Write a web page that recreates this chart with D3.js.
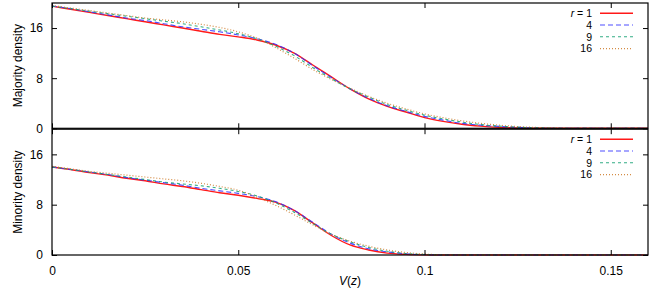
<!DOCTYPE html>
<html><head><meta charset="utf-8">
<script src="https://cdn.jsdelivr.net/npm/d3@7"></script>
<style>body{margin:0;background:#fff}svg{display:block}text{font-family:"Liberation Sans",Arial,sans-serif;font-size:12px;fill:#000}</style>
</head><body><svg id="c" width="654" height="291"></svg>
<script>
const V = [0,.005,.01,.015,.02,.025,.03,.035,.04,.045,.05,.055,.06,.065,.07,.075,.08,.085,.09,.095,.1,.105,.11,.115,.12,.125,.13,.135,.14,.145,.15,.155,.16];
const majR1  = [19.5,19.0,18.5,18.0,17.5,17.0,16.5,16.0,15.5,15.0,14.6,14.1,13.3,12.0,10.1,8.2,6.3,4.7,3.5,2.6,1.7,1.1,0.65,0.35,0.15,0.04,0,0,0,0,0,0,0];
const majR4  = [19.5,19.1,18.6,18.1,17.6,17.2,16.7,16.2,15.8,15.4,14.9,14.3,13.4,12.0,10.0,8.1,6.3,4.8,3.6,2.7,1.9,1.3,0.8,0.5,0.3,0.15,0.05,0,0,0,0,0,0];
const majR9  = [19.5,19.1,18.7,18.3,17.9,17.5,17.1,16.7,16.2,15.7,15.1,14.3,13.1,11.6,9.7,7.9,6.3,5.0,3.8,2.9,2.1,1.5,1.0,0.6,0.35,0.18,0.08,0.02,0,0,0,0,0];
const majR16 = [19.6,19.2,18.8,18.4,18.0,17.6,17.3,17.0,16.6,16.1,15.4,14.4,12.9,11.2,9.4,7.8,6.4,5.1,4.0,3.1,2.3,1.7,1.2,0.8,0.5,0.28,0.14,0.05,0,0,0,0,0];
const minR1  = [14.0,13.6,13.1,12.7,12.2,11.8,11.3,10.9,10.4,9.9,9.5,9.0,8.4,7.1,5.1,3.1,1.6,0.8,0.3,0.1,0.02,0,0,0,0,0,0,0,0,0,0,0,0];
const minR4  = [14.0,13.6,13.2,12.8,12.3,11.9,11.5,11.1,10.6,10.2,9.8,9.3,8.5,7.1,5.2,3.3,1.9,1.0,0.5,0.2,0.05,0,0,0,0,0,0,0,0,0,0,0,0];
const minR9  = [14.0,13.6,13.2,12.8,12.4,12.0,11.6,11.3,11.0,10.6,10.1,9.4,8.3,6.8,5.0,3.3,2.1,1.2,0.6,0.25,0.08,0,0,0,0,0,0,0,0,0,0,0,0];
const minR16 = [14.1,13.7,13.3,13.0,12.7,12.4,12.1,11.8,11.4,10.9,10.3,9.2,7.9,6.4,4.8,3.3,2.2,1.4,0.8,0.4,0.15,0.03,0,0,0,0,0,0,0,0,0,0,0];
const legendLabels = ["1","4","9","16"];
const xTicks = [0,0.05,0.1,0.15];
const yTicks = [0,8,16];

const colors = ["#ff0000","#3030ff","#10a070","#d08030"];
const dashes = [null,"5,3","3,3","1,2"];
const widths = [1.4,1.1,1.1,1.2];
const opac = [0.9,0.85,0.85,0.9];

const svg = d3.select("#c");
const L = 52, R = 648;
const x = d3.scaleLinear().domain([0,0.16]).range([L,R]);
const panels = [
  {top:3, bot:128.3, series:[majR1,majR4,majR9,majR16], label:"Majority density", legY:13.2, xlab:false},
  {top:129.2, bot:255, series:[minR1,minR4,minR9,minR16], label:"Minority density", legY:139.2, xlab:true}
];
panels.forEach(p=>{
  const y = d3.scaleLinear().domain([0,20]).range([p.bot,p.top]);
  const g = svg.append("g");
  const line = d3.line().curve(d3.curveMonotoneX).x((d,i)=>x(V[i])).y(d=>y(d));
  p.series.forEach((s,k)=>{
    g.append("path").attr("d",line(s)).attr("fill","none").attr("stroke",colors[k])
     .attr("stroke-width",widths[k]).attr("stroke-dasharray",dashes[k]).attr("opacity",opac[k]);
  });
  g.append("rect").attr("x",L).attr("y",p.top).attr("width",R-L).attr("height",p.bot-p.top)
   .attr("fill","none").attr("stroke","#000").attr("stroke-width",1.2);
  const axL = d3.axisLeft(y).tickValues(yTicks).tickSizeInner(-5).tickSizeOuter(0).tickPadding(9);
  const gl = g.append("g").attr("transform",`translate(${L},0)`).call(axL);
  const axR = d3.axisRight(y).tickValues(yTicks).tickSizeInner(-5).tickSizeOuter(0).tickFormat("");
  const gr = g.append("g").attr("transform",`translate(${R},0)`).call(axR);
  const axT = d3.axisTop(x).tickValues(xTicks).tickSizeInner(-5).tickSizeOuter(0).tickFormat("");
  const gt = g.append("g").attr("transform",`translate(0,${p.top})`).call(axT);
  const axB = d3.axisBottom(x).tickValues(xTicks).tickSizeInner(-5).tickSizeOuter(0).tickPadding(11)
     .tickFormat(d=>String(d));
  if(!p.xlab) axB.tickFormat("");
  const gb = g.append("g").attr("transform",`translate(0,${p.bot})`).call(axB);
  [gl,gr,gt,gb].forEach(a=>{a.select(".domain").remove();a.selectAll("line").attr("stroke","#000");
    a.selectAll("text").style("font-size","12px").style("font-family","Liberation Sans, Arial, sans-serif");});
  const cy = (p.top+p.bot)/2;
  g.append("text").attr("transform",`translate(22,${cy}) rotate(-90)`).attr("text-anchor","middle").text(p.label);
  legendLabels.forEach((lab,k)=>{
    const ly = p.legY + k*11.8;
    const t = g.append("text").attr("x",592).attr("y",ly+3.8).attr("text-anchor","end").style("font-size","10.5px");
    if(k===0){ t.append("tspan").attr("font-style","italic").text("r"); t.append("tspan").text(" = "+lab); }
    else t.text(lab);
    g.append("line").attr("x1",600).attr("x2",633).attr("y1",ly).attr("y2",ly)
     .attr("stroke",colors[k]).attr("stroke-width",widths[k]).attr("stroke-dasharray",dashes[k]).attr("opacity",opac[k]);
  });
});
svg.append("text").attr("x",x(0.08)).attr("y",285).attr("text-anchor","middle")
  .html('<tspan font-style="italic">V</tspan>(<tspan font-style="italic">z</tspan>)');
</script></body></html>
